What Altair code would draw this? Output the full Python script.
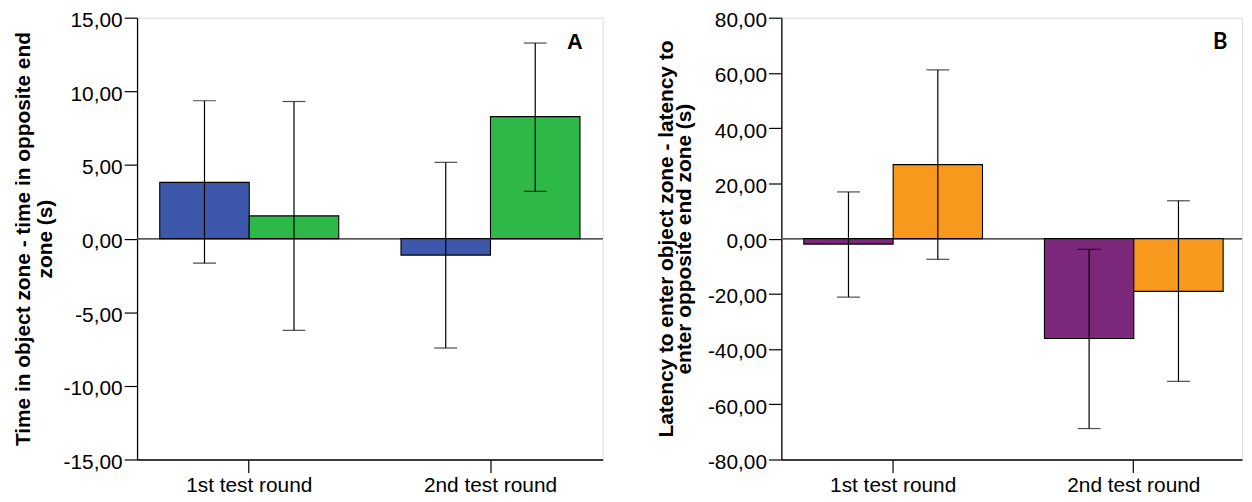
import altair as alt
import pandas as pd

rounds = ["1st test round", "2nd test round"]
series_a = ["A group 1", "A group 2"]
series_b = ["B group 1", "B group 2"]

# Panel A: time in object zone - time in opposite end zone (s)
a_mean_1 = [3.82, -1.12]
a_mean_2 = [1.54, 8.28]
a_lo_1 = [-1.67, -7.43]
a_hi_1 = [9.36, 5.18]
a_lo_2 = [-6.23, 3.21]
a_hi_2 = [9.31, 13.28]
a_ticks = [-15, -10, -5, 0, 5, 10, 15]
a_colors = ["#3D58AB", "#2EB848"]

# Panel B: latency difference (s)
b_mean_1 = [-2.0, -36.2]
b_mean_2 = [26.8, -19.1]
b_lo_1 = [-21.2, -68.8]
b_hi_1 = [16.9, -3.9]
b_lo_2 = [-7.5, -51.7]
b_hi_2 = [61.1, 13.7]
b_ticks = [-80, -60, -40, -20, 0, 20, 40, 60, 80]
b_colors = ["#7B287B", "#F8991E"]

a_title = ["Time in object zone - time in opposite end", "zone (s)"]
b_title = ["Latency to enter object zone - latency to", "enter opposite end zone (s)"]


def make_df(series, m1, m2, lo1, lo2, hi1, hi2):
    rows = []
    for i, r in enumerate(rounds):
        rows.append({"round": r, "series": series[0], "mean": m1[i], "lo": lo1[i], "hi": hi1[i], "base": 0})
        rows.append({"round": r, "series": series[1], "mean": m2[i], "lo": lo2[i], "hi": hi2[i], "base": 0})
    return pd.DataFrame(rows)


LABEL_EXPR = "(datum.value < 0 ? '-' : '') + replace(format(abs(datum.value), '.2f'), '.', ',')"
FONT = "Liberation Sans"


def panel(df, series, colors, ticks, title, lh, title_x, letter, letter_font, letter_x,
          w, h, pad_inner, pad_outer, align):
    yscale = alt.Scale(domain=[ticks[0], ticks[-1]], nice=False, zero=False)
    yaxis = alt.Axis(
        values=ticks, title=title, titleFont=FONT, titleFontSize=21, titleFontWeight="bold",
        titleColor="black", titleAngle=270, titleBaseline="bottom", titleAlign="center",
        titleX=title_x, titleY=h / 2, titleLineHeight=lh,
        labelExpr=LABEL_EXPR, labelFont=FONT, labelFontSize=21, labelColor="black",
        labelPadding=2, labelOffset=3, tickSize=13, tickColor="black", tickWidth=1.2,
        domainColor="black", domainWidth=1.3, grid=False,
    )
    xaxis = alt.Axis(
        title=None, labelAngle=0, labelFont=FONT, labelFontSize=21, labelColor="black",
        labelPadding=2, tickSize=13, tickColor="black", tickWidth=1.2, bandPosition=0.5,
        domainColor="black", domainWidth=1.3, grid=False,
    )
    xenc = alt.X("round:N", sort=rounds, axis=xaxis,
                 scale=alt.Scale(paddingInner=pad_inner, paddingOuter=pad_outer, align=align))
    xoff = alt.XOffset("series:N", sort=series, scale=alt.Scale(paddingInner=0, paddingOuter=0))
    base = alt.Chart(df)
    bars = base.mark_bar(stroke="black", strokeWidth=1.1).encode(
        x=xenc, xOffset=xoff,
        y=alt.Y("mean:Q", scale=yscale, axis=yaxis), y2="base:Q",
        color=alt.Color("series:N", scale=alt.Scale(domain=series, range=colors), legend=None),
    )
    zero = base.mark_rule(color="#555555", strokeWidth=1.4).encode(y=alt.datum(0))
    err = base.mark_rule(color="black", strokeWidth=1.2).encode(
        x=xenc, xOffset=xoff, y="lo:Q", y2="hi:Q")
    cap_lo = base.mark_tick(orient="horizontal", size=23, thickness=1.2, color="black").encode(
        x=xenc, xOffset=xoff, y="lo:Q")
    cap_hi = base.mark_tick(orient="horizontal", size=23, thickness=1.2, color="black").encode(
        x=xenc, xOffset=xoff, y="hi:Q")
    lab = alt.Chart(pd.DataFrame({"t": [letter]})).mark_text(
        font=letter_font, fontSize=22, fontWeight="bold", color="black",
        align="center", baseline="middle").encode(
        text="t:N", x=alt.value(letter_x), y=alt.value(25))
    return alt.layer(zero, bars, err, cap_lo, cap_hi, lab).properties(width=w, height=h)


df_a = make_df(series_a, a_mean_1, a_mean_2, a_lo_1, a_lo_2, a_hi_1, a_hi_2)
df_b = make_df(series_b, b_mean_1, b_mean_2, b_lo_1, b_lo_2, b_hi_1, b_hi_2)

pa = panel(df_a, series_a, a_colors, a_ticks, a_title, 21.7, -104, "A", FONT, 441,
           469, 445, 0.258, 0.094, 0.5)
pb = panel(df_b, series_b, b_colors, b_ticks, b_title, 18, -106, "B", "Lato", 442,
           464, 445, 0.2574, 0.0858, 0.543)

chart = alt.hconcat(pa, pb, spacing=180, bounds="flush").resolve_scale(
    color="independent", y="independent", x="independent", xOffset="independent"
).properties(
    padding={"left": 4, "top": -1, "right": 0, "bottom": -3}
).configure_view(stroke="#555555", strokeWidth=1.5).configure(background="white")

chart.save("out.html", embed_options={"renderer": "svg", "actions": False})
